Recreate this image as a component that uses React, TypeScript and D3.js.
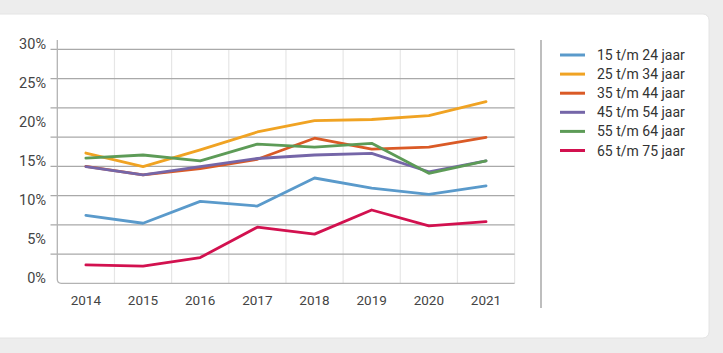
import React from "react";
import * as d3 from "d3";

const years = ["2014", "2015", "2016", "2017", "2018", "2019", "2020", "2021"];
const seriesNames = [
  "15 t/m 24 jaar",
  "25 t/m 34 jaar",
  "35 t/m 44 jaar",
  "45 t/m 54 jaar",
  "55 t/m 64 jaar",
  "65 t/m 75 jaar",
];
const seriesColors = ["#5a9acb", "#f0a323", "#da5a26", "#7566a8", "#5d9b57", "#d2114f"];
const v15_24 = [8.7, 7.7, 10.5, 9.9, 13.5, 12.2, 11.4, 12.5];
const v25_34 = [16.7, 14.95, 17.1, 19.4, 20.85, 21.0, 21.5, 23.3];
const v35_44 = [15.0, 13.9, 14.7, 15.9, 18.6, 17.2, 17.45, 18.7];
const v45_54 = [14.95, 13.9, 14.95, 16.0, 16.45, 16.65, 14.3, 15.7];
const v55_64 = [16.05, 16.45, 15.7, 17.85, 17.45, 17.95, 14.1, 15.7];
const v65_75 = [2.35, 2.2, 3.3, 7.2, 6.3, 9.4, 7.35, 7.9];
const seriesValues = [v15_24, v25_34, v35_44, v45_54, v55_64, v65_75];
const yTickLabels = ["0%", "5%", "10%", "15%", "20%", "25%", "30%"];
const yTickValues = [0, 5, 10, 15, 20, 25, 30];
const gridCount = 8;

export default function App() {
  const W = 723, H = 353;
  const x = d3.scaleBand<string>().domain(years).range([57.3, 514.6]).padding(0);
  const y = d3.scaleLinear().domain([0, 30]).range([283.3, 49.3]);
  const gridVals = d3.range(gridCount + 1).map((i) => (30 / gridCount) * i);
  const line = d3
    .line<number>()
    .x((_, i) => (x(years[i]) as number) + x.bandwidth() / 2)
    .y((d) => y(d));
  const font = "Roboto, 'Open Sans', sans-serif";
  const left = 57.3, right = 514.6, bottom = y(0);
  const r = 4;
  return (
    <svg width={W} height={H} style={{ position: "absolute", left: 0, top: 0 }} fontFamily={font}>
      <rect x={0} y={0} width={W} height={H} fill="#ededed" />
      <rect x={-6} y={14} width={715} height={324} rx={6} fill="#ffffff" stroke="#e4e4e4" />
      {/* vertical light grid */}
      {years.map((yr, i) =>
        i === 0 ? null : (
          <line key={yr} x1={x(yr)} x2={x(yr)} y1={y(30)} y2={bottom} stroke="#e6e6e6" strokeWidth={1.2} />
        )
      )}
      <line x1={right} x2={right} y1={y(30)} y2={bottom} stroke="#e6e6e6" strokeWidth={1.2} />
      {/* horizontal grid */}
      {gridVals.slice(1).map((g) => (
        <line key={g} x1={50.5} x2={right} y1={y(g)} y2={y(g)} stroke="#a9a9a9" strokeWidth={1.3} />
      ))}
      {/* axis with rounded corner */}
      <path
        d={`M${left},40 L${left},${bottom - r} Q${left},${bottom} ${left + r},${bottom} L${right},${bottom}`}
        fill="none"
        stroke="#b3b3b3"
        strokeWidth={1.3}
      />
      {/* y labels */}
      {yTickValues.map((v, i) => (
        <text key={v} x={46} y={y(v)} textAnchor="end" fontSize={14.5} fill="#444">
          {yTickLabels[i]}
        </text>
      ))}
      {/* x labels */}
      {years.map((yr) => (
        <text
          key={yr}
          x={(x(yr) as number) + x.bandwidth() / 2}
          y={305}
          textAnchor="middle"
          fontSize={13.5}
          fill="#444"
        >
          {yr}
        </text>
      ))}
      {/* lines */}
      {seriesValues.map((vals, si) => (
        <path
          key={si}
          d={line(vals) as string}
          fill="none"
          stroke={seriesColors[si]}
          strokeWidth={2.8}
          strokeLinejoin="round"
          strokeLinecap="round"
        />
      ))}
      {/* legend separator */}
      <line x1={541} x2={541} y1={40} y2={308} stroke="#a9a9a9" strokeWidth={1.5} />
      {seriesNames.map((n, i) => {
        const cy = 55 + i * 19.1;
        return (
          <g key={n}>
            <line x1={560} x2={585} y1={cy} y2={cy} stroke={seriesColors[i]} strokeWidth={3} />
            <text x={597} y={cy + 5} fontSize={14} fill="#333">
              {n}
            </text>
          </g>
        );
      })}
    </svg>
  );
}
